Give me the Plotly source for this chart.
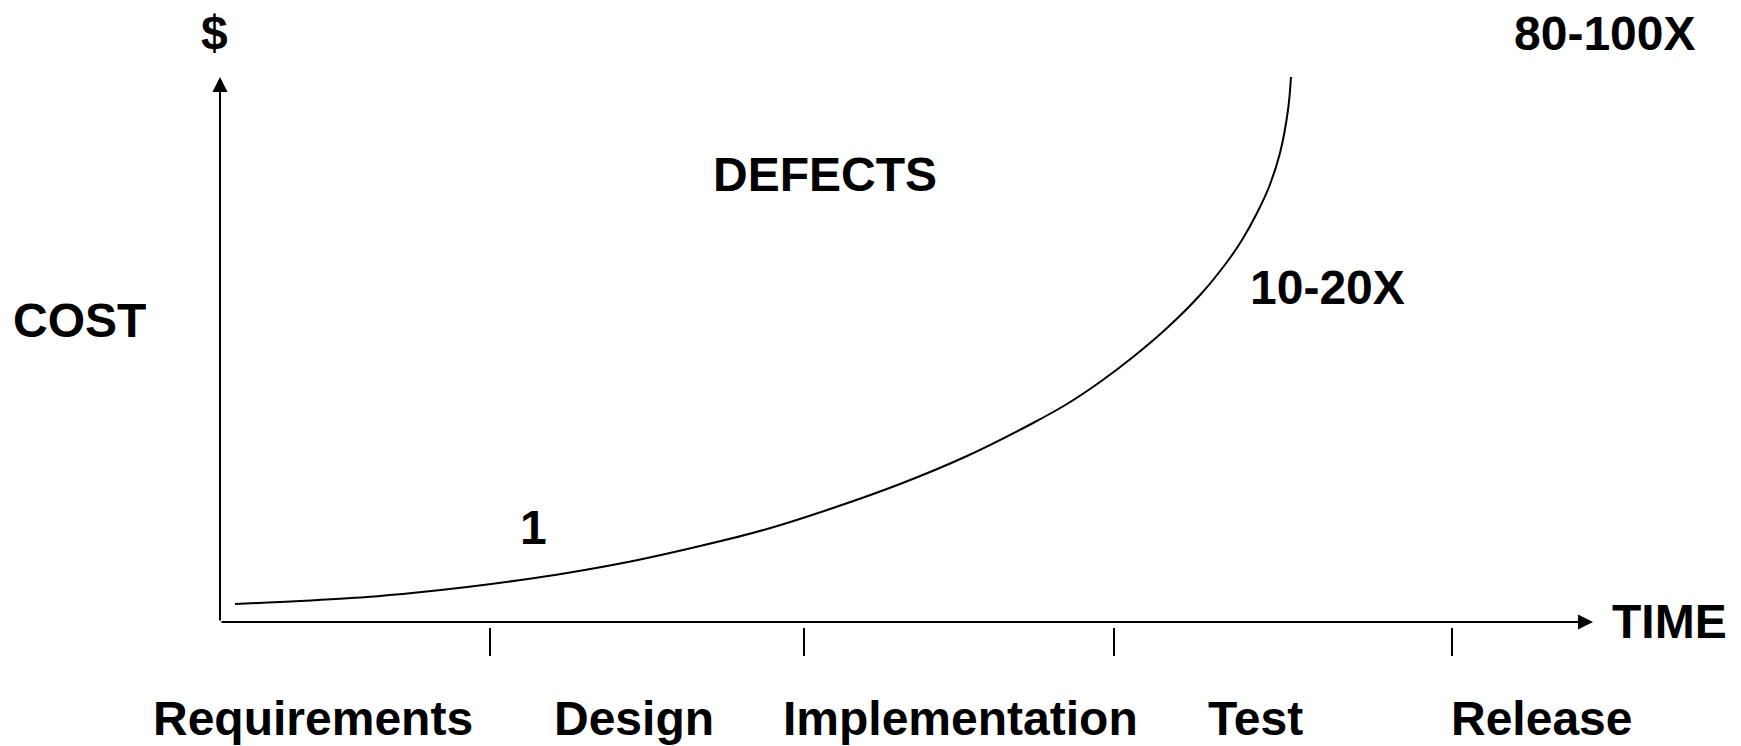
import plotly.graph_objects as go

# Defect cost curve (time units from origin, cost units from origin)
curve_time = [15, 80, 147, 197, 247, 297, 347, 413, 480, 547, 613, 680, 747, 813,
              847, 880, 913, 947, 981, 1007, 1022, 1037, 1049, 1060, 1068, 1071]
curve_cost = [18, 21, 25, 29.5, 35, 41.5, 49, 61, 76, 93, 114, 138, 166, 199,
              218, 240, 265, 294, 328, 360, 382, 409, 435, 469, 512, 545]

# Phase boundaries (tick marks) and phase labels
phase_ticks = [270, 584, 894, 1232]
phases = ["Requirements", "Design", "Implementation", "Test", "Release"]
phase_label_x = [93, 414, 740, 1035, 1321]

# Cost multipliers
mult_labels = ["1", "10-20X", "80-100X"]
mult_x = [313, 1107, 1384]
mult_y = [95, 335, 589]

FONT = "Arial, Liberation Sans, sans-serif"
FS = 48

fig = go.Figure()

fig.add_trace(go.Scatter(x=curve_time, y=curve_cost, mode="lines",
                         line=dict(color="black", width=2, shape="spline", smoothing=1.0),
                         hoverinfo="skip", showlegend=False))

# tick marks
tx, ty = [], []
for t in phase_ticks:
    tx += [t, t, None]
    ty += [-6, -34, None]
fig.add_trace(go.Scatter(x=tx, y=ty, mode="lines", line=dict(color="black", width=2),
                         hoverinfo="skip", showlegend=False))

ann = []
# axes as arrows
ann.append(dict(x=0, y=545, ax=0, ay=0, xref="x", yref="y", axref="x", ayref="y",
                text="", showarrow=True, arrowhead=2, arrowsize=1.5, arrowwidth=2,
                arrowcolor="black", standoff=0, startstandoff=0))
ann.append(dict(x=1373, y=0, ax=0, ay=0, xref="x", yref="y", axref="x", ayref="y",
                text="", showarrow=True, arrowhead=2, arrowsize=1.5, arrowwidth=2,
                arrowcolor="black", standoff=0, startstandoff=0))

def txt(s, x, y, xanchor="center"):
    return dict(x=x, y=y, xref="x", yref="y", text="<b>%s</b>" % s, showarrow=False,
                xanchor=xanchor, yanchor="middle",
                font=dict(family=FONT, size=FS, color="black"))

for lab, x in zip(phases, phase_label_x):
    ann.append(txt(lab, x, -96))
for lab, x, y in zip(mult_labels, mult_x, mult_y):
    ann.append(txt(lab, x, y))
ann.append(txt("$", -6, 590))
ann.append(txt("DEFECTS", 605, 448))
ann.append(txt("COST", -209, 302, xanchor="left"))
ann.append(txt("TIME", 1390, 1, xanchor="left"))

fig.update_layout(
    width=1741, height=746,
    margin=dict(l=0, r=0, t=0, b=0),
    paper_bgcolor="white", plot_bgcolor="white",
    xaxis=dict(range=[-220, 1521], visible=False, fixedrange=True),
    yaxis=dict(range=[-124, 622], visible=False, fixedrange=True),
    annotations=ann,
    showlegend=False,
)

fig.write_html("out.html", config={"displayModeBar": False},
               post_script="document.body.style.margin='0';")
